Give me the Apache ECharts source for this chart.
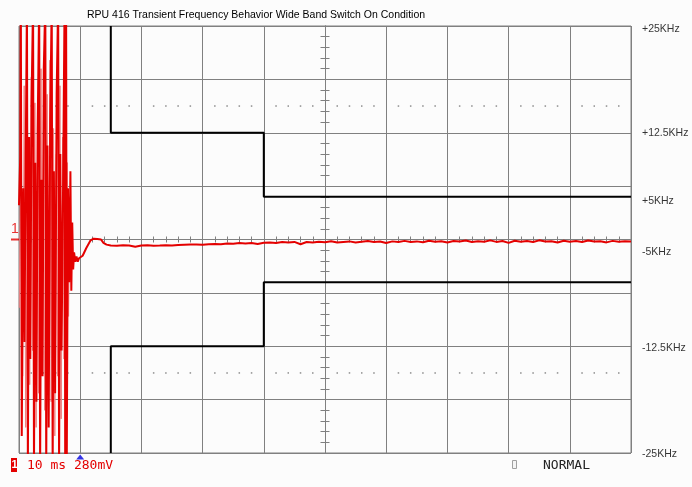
<!DOCTYPE html>
<html>
<head>
<meta charset="utf-8">
<title>RPU 416 Transient Frequency Behavior</title>
<script src="https://cdn.jsdelivr.net/npm/echarts@6/dist/echarts.min.js"></script>
<style>
  html, body { margin: 0; padding: 0; background: #fcfcfc; }
  #chart { width: 692px; height: 487px; }
</style>
</head>
<body>
<div id="chart"></div>
<script>
// Time base: 10 ms / division, 10 divisions. Frequency deviation in kHz, ±25 kHz full scale.
const TITLE = 'RPU 416 Transient Frequency Behavior Wide Band Switch On Condition';

// Switch-on burst: strong full-scale swings [ms, kHz]
const burst = [
  [0.00, 4], [0.20, 9.7], [0.30, 28], [0.45, -23], [0.70, 6], [0.90, -12], [1.10, 10],
  [1.30, 28], [1.45, -27], [1.65, 12], [1.85, -14], [2.05, 16], [2.30, 28], [2.45, -27],
  [2.65, 9], [2.85, -19], [3.05, 13], [3.30, 28], [3.45, -27], [3.65, 7], [3.85, -16],
  [4.05, 20], [4.30, 28], [4.45, -27], [4.65, 11], [4.85, -22], [5.10, 14], [5.35, 28],
  [5.50, -27], [5.70, 8], [5.90, -18], [6.15, 17], [6.40, 28], [6.55, -27], [6.75, 10],
  [6.95, -13], [7.20, 6], [7.45, 28], [7.55, -27], [7.70, 28], [7.80, -27], [8.00, 6],
  [8.20, -5], [8.40, 8], [8.55, -6], [8.70, 2], [8.85, -3.5]
];

// Fainter intermediate swings of the same burst [ms, kHz]
const burstFaint = [
  [0.05, -8], [0.25, 10], [0.60, -16], [0.85, 18], [1.10, -22], [1.55, 11], [1.75, -17],
  [2.00, 19], [2.20, -13], [2.60, 16], [2.80, -22], [3.05, 9], [3.20, -18], [3.60, 20],
  [3.80, -12], [4.00, 14], [4.20, -20], [4.60, 17], [4.80, -15], [5.05, 21], [5.25, -19],
  [5.65, 13], [5.85, -23], [6.10, 10], [6.30, -16], [6.70, 18], [6.90, -21], [7.15, 12],
  [7.35, -14], [7.90, 9], [8.10, -9], [8.30, 5], [8.50, -4], [8.70, 1]
];

// Settling dip and overshoot after the burst [ms, kHz]
const settling = [
  [9.0, -1.5], [9.2, -2.6], [9.4, -2.0], [9.6, -2.6], [9.8, -2.2], [10.1, -2.4],
  [10.4, -1.9], [11.0, -1.0], [11.7, -0.1], [12.2, 0.1], [12.8, 0.05], [13.4, 0.0],
  [13.8, -0.4], [14.3, -0.6]
];

// Steady-state deviation, one sample per ms from 15 ms to 100 ms [kHz]
const steadyStart = 15;
const steady = [
  -0.70, -0.72, -0.68, -0.70, -0.85, -0.70, -0.68, -0.72, -0.70, -0.66, -0.70,
  -0.64, -0.62, -0.60, -0.58, -0.62, -0.55, -0.52, -0.55, -0.48, -0.50,
  -0.42, -0.46, -0.40, -0.52, -0.38, -0.34, -0.40, -0.30, -0.36, -0.28,
  -0.55, -0.30, -0.34, -0.26, -0.32, -0.20, -0.36, -0.28, -0.22, -0.34,
  -0.26, -0.18, -0.30, -0.24, -0.42, -0.22, -0.30, -0.16, -0.28, -0.22,
  -0.32, -0.14, -0.26, -0.20, -0.34, -0.18, -0.24, -0.12, -0.30, -0.20,
  -0.26, -0.10, -0.28, -0.18, -0.40, -0.14, -0.26, -0.18, -0.30, -0.10,
  -0.24, -0.20, -0.36, -0.14, -0.26, -0.18, -0.30, -0.12, -0.24, -0.20,
  -0.34, -0.16, -0.26, -0.20, -0.24
];

// Tolerance mask [ms, kHz]
const maskUpper = [[15, 25], [15, 12.5], [40, 12.5], [40, 5], [100, 5]];
const maskLower = [[15, -25], [15, -12.5], [40, -12.5], [40, -5], [100, -5]];

// Right-hand scale annotations and the level they sit at [kHz]
const scaleLabels = ['+25KHz', '+12.5KHz', '+5KHz', '-5KHz', '-12.5KHz', '-25KHz'];
const scaleLevels = [24.6, 12.5, 4.55, -1.45, -12.7, -25.1];

// Trigger position [ms]
const triggerTime = 10;

// Dotted reference rows at ±2.5 divisions
const dotLevel = 15.625;
const dotRows = [];
for (let t = 2; t < 100; t += 2) {
  if (t % 10 !== 0) { dotRows.push([t, dotLevel]); dotRows.push([t, -dotLevel]); }
}

const mainTrace = burst.concat(settling, steady.map((v, i) => [steadyStart + i, v]));

const GRIDC = '#808080';
const RED = '#e40000';
const PLOT_HALF_W = 306;

const chart = echarts.init(document.getElementById('chart'), null, { renderer: 'canvas' });

const hiddenAxisBits = { axisLabel: { show: false }, splitLine: { show: false } };

chart.setOption({
  backgroundColor: '#fcfcfc',
  animation: false,
  grid: { left: 19, right: 61, top: 26, bottom: 34, show: true, borderColor: GRIDC, borderWidth: 1 },
  xAxis: [
    { type: 'value', min: 0, max: 100, interval: 10,
      axisLine: { show: false, onZero: false }, axisTick: { show: false }, axisLabel: { show: false },
      splitLine: { show: true, lineStyle: { color: GRIDC, width: 1 } } },
    Object.assign({ type: 'value', min: 0, max: 100, interval: 2, position: 'bottom',
      axisLine: { show: true, onZero: true, lineStyle: { color: GRIDC, width: 1 } },
      axisTick: { show: true, length: 3, lineStyle: { color: GRIDC } } }, hiddenAxisBits),
    Object.assign({ type: 'value', min: 0, max: 100, interval: 2, position: 'top',
      axisLine: { show: true, onZero: true, lineStyle: { color: GRIDC, width: 1 } },
      axisTick: { show: true, length: 3, lineStyle: { color: GRIDC } } }, hiddenAxisBits)
  ],
  yAxis: [
    { type: 'value', min: -25, max: 25, interval: 6.25,
      axisLine: { show: false, onZero: false }, axisTick: { show: false }, axisLabel: { show: false },
      splitLine: { show: true, lineStyle: { color: GRIDC, width: 1 } } },
    Object.assign({ type: 'value', min: -25, max: 25, interval: 1.25, position: 'left', offset: -PLOT_HALF_W,
      axisLine: { show: true, onZero: false, lineStyle: { color: GRIDC, width: 1 } },
      axisTick: { show: true, length: 4.5, lineStyle: { color: GRIDC } } }, hiddenAxisBits),
    Object.assign({ type: 'value', min: -25, max: 25, interval: 1.25, position: 'right', offset: -PLOT_HALF_W,
      axisLine: { show: true, onZero: false, lineStyle: { color: GRIDC, width: 1 } },
      axisTick: { show: true, length: 4.5, lineStyle: { color: GRIDC } } }, hiddenAxisBits)
  ],
  title: {
    text: TITLE, left: 82, top: 5,
    textStyle: { fontFamily: 'Liberation Sans', fontSize: 10.5, fontWeight: 'normal', color: '#000' }
  },
  series: [
    { type: 'scatter', name: 'dots', data: dotRows, symbol: 'rect', symbolSize: 1.5,
      itemStyle: { color: '#707070' }, silent: true },
    { type: 'line', name: 'maskUpper', data: maskUpper, symbol: 'none',
      lineStyle: { color: '#000', width: 2 } },
    { type: 'line', name: 'maskLower', data: maskLower, symbol: 'none',
      lineStyle: { color: '#000', width: 2 } },
    { type: 'line', name: 'burstFaint', data: burstFaint, symbol: 'none', clip: true,
      lineStyle: { color: '#f08080', width: 1 } },
    { type: 'line', name: 'trace', data: mainTrace, symbol: 'none', clip: true,
      lineStyle: { color: RED, width: 2 } },
    { type: 'scatter', name: 'trigger', data: [[triggerTime, -25]], clip: false,
      symbol: 'triangle', symbolSize: [8, 5], symbolOffset: [0, 4], itemStyle: { color: '#0000e0' } },
    { type: 'scatter', name: 'ch1ground', data: [[0, 0]], clip: false,
      symbol: 'rect', symbolSize: [8, 2], symbolOffset: [-4, 0], itemStyle: { color: RED },
      label: { show: true, formatter: '1', position: 'top', distance: 2, offset: [0, 0],
        fontFamily: 'Liberation Sans', fontSize: 14, color: RED } },
    { type: 'scatter', name: 'scale', clip: false, symbolSize: 0,
      data: scaleLevels.map((v, i) => ({ value: [100, v], label: { formatter: scaleLabels[i] } })),
      label: { show: true, position: 'right', distance: 11,
        fontFamily: 'Liberation Sans', fontSize: 10.5, color: '#000' } }
  ],
  graphic: [
    { type: 'rect', left: 11, top: 458, shape: { width: 6, height: 14 }, style: { fill: RED } },
    { type: 'text', left: 11.5, top: 459, style: { text: '1', fill: '#fff',
      font: 'bold 11px "Liberation Sans"' } },
    { type: 'text', left: 27, top: 459, style: { text: '10 ms 280mV', fill: RED,
      font: '13px "DejaVu Sans Mono"' } },
    { type: 'rect', left: 512, top: 460, shape: { width: 4, height: 8 },
      style: { fill: '#f4f4f4', stroke: '#a0a0a0', lineWidth: 1 } },
    { type: 'text', left: 543, top: 459, style: { text: 'NORMAL', fill: '#222',
      font: '13px "DejaVu Sans Mono"' } }
  ]
});
</script>
</body>
</html>
